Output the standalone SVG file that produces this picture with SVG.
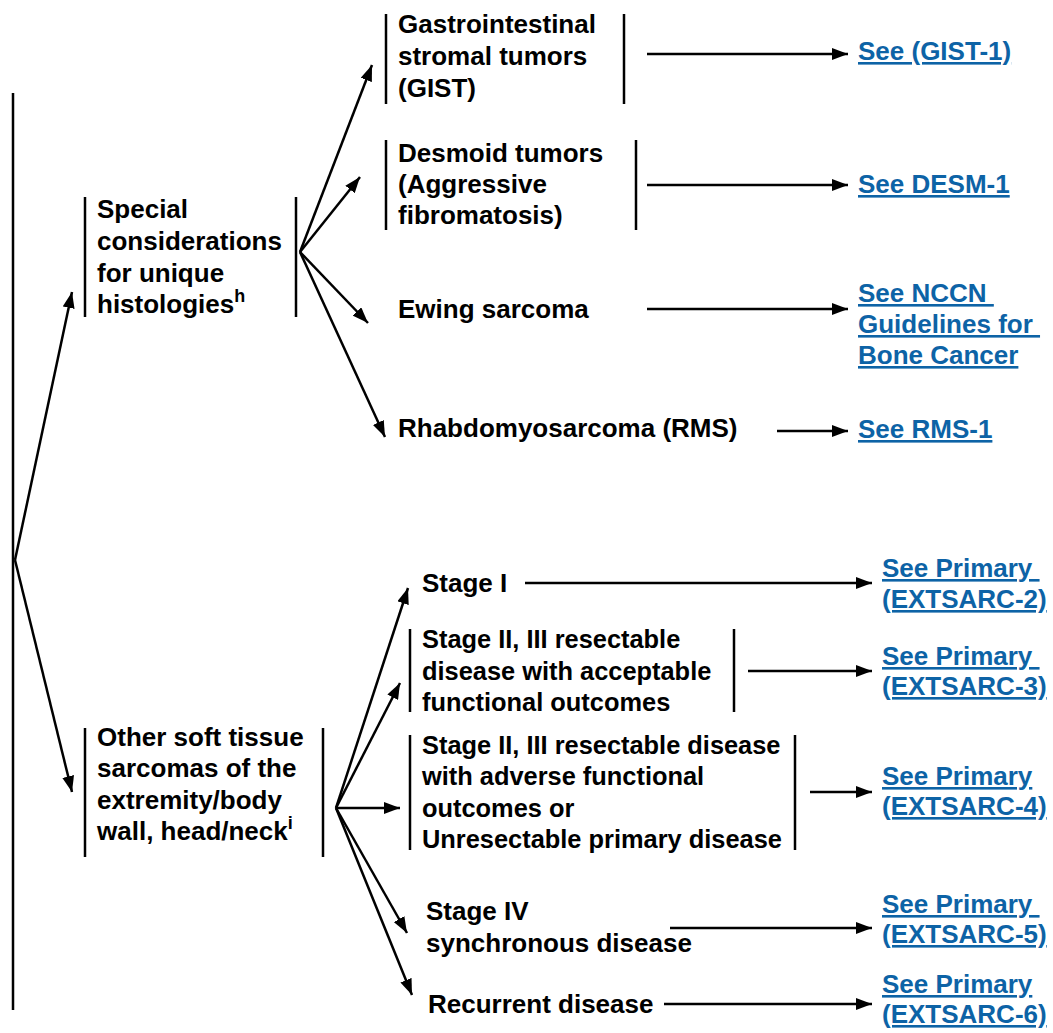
<svg xmlns="http://www.w3.org/2000/svg" width="1053" height="1033" viewBox="0 0 1053 1033">
<defs>
<style>
.t{font-family:"Liberation Sans",Arial,sans-serif;font-weight:bold;font-size:26px;fill:#000}
.n{font-size:25.4px}
.sup{font-size:18px}
.lk{font-family:"Liberation Sans",Arial,sans-serif;font-weight:bold;font-size:26px;fill:#0d63a6;text-decoration:underline;white-space:pre}
.bar{stroke:#000;stroke-width:2.5;fill:none}
.c{stroke:#000;stroke-width:2.5;fill:none;marker-end:url(#ah)}
</style>
<marker id="ah" markerUnits="userSpaceOnUse" markerWidth="17" markerHeight="12" refX="16" refY="6" orient="auto">
<path d="M0,0 L16,6 L0,12 z" fill="#000"/>
</marker>
</defs>
<rect width="1053" height="1033" fill="#fff"/>

<g id="root">
<line class="bar" x1="13" y1="93" x2="13" y2="1010" stroke-width="3"/>
</g>

<g id="special">
<line class="bar" x1="85" y1="197" x2="85" y2="317"/>
<line class="bar" x1="296" y1="197" x2="296" y2="317"/>
<text class="t"><tspan x="97" y="218">Special</tspan><tspan x="97" y="250">considerations</tspan><tspan x="97" y="282">for unique</tspan><tspan x="97" y="313">histologies<tspan class="sup" dy="-11">h</tspan></tspan></text>
</g>

<g id="gist">
<line class="bar" x1="386" y1="14" x2="386" y2="104"/>
<line class="bar" x1="624" y1="14" x2="624" y2="104"/>
<text class="t"><tspan x="398" y="33">Gastrointestinal</tspan><tspan x="398" y="65">stromal tumors</tspan><tspan x="398" y="97">(GIST)</tspan></text>
</g>
<g id="link-gist"><text class="lk" x="858" y="60">See (GIST-1)</text></g>

<g id="desmoid">
<line class="bar" x1="386" y1="140" x2="386" y2="230"/>
<line class="bar" x1="636" y1="140" x2="636" y2="230"/>
<text class="t"><tspan x="398" y="162">Desmoid tumors</tspan><tspan x="398" y="193">(Aggressive</tspan><tspan x="398" y="224">fibromatosis)</tspan></text>
</g>
<g id="link-desm"><text class="lk" x="858" y="193">See DESM-1</text></g>

<g id="ewing"><text class="t" x="398" y="318">Ewing sarcoma</text></g>
<g id="link-bone"><text class="lk"><tspan x="858" y="302">See NCCN </tspan><tspan x="858" y="333">Guidelines for </tspan><tspan x="858" y="364">Bone Cancer</tspan></text></g>

<g id="rms"><text class="t" x="398" y="437">Rhabdomyosarcoma (RMS)</text></g>
<g id="link-rms"><text class="lk" x="858" y="438">See RMS-1</text></g>

<g id="other">
<line class="bar" x1="85" y1="728" x2="85" y2="857"/>
<line class="bar" x1="323" y1="728" x2="323" y2="857"/>
<text class="t"><tspan x="97" y="746">Other soft tissue</tspan><tspan x="97" y="777">sarcomas of the</tspan><tspan x="97" y="809">extremity/body</tspan><tspan x="97" y="840">wall, head/neck<tspan class="sup" dy="-11">i</tspan></tspan></text>
</g>

<g id="stage1"><text class="t" x="422" y="592">Stage I</text></g>
<g id="link-ext2"><text class="lk"><tspan x="882" y="577">See Primary </tspan><tspan x="882" y="608">(EXTSARC-2)</tspan></text></g>

<g id="stage23res">
<line class="bar" x1="410" y1="629" x2="410" y2="712"/>
<line class="bar" x1="734" y1="629" x2="734" y2="712"/>
<text class="t n"><tspan x="422" y="648">Stage II, III resectable</tspan><tspan x="422" y="680">disease with acceptable</tspan><tspan x="422" y="711">functional outcomes</tspan></text>
</g>
<g id="link-ext3"><text class="lk"><tspan x="882" y="665">See Primary </tspan><tspan x="882" y="695">(EXTSARC-3)</tspan></text></g>

<g id="stage23adv">
<line class="bar" x1="410" y1="735" x2="410" y2="850"/>
<line class="bar" x1="795" y1="735" x2="795" y2="850"/>
<text class="t n"><tspan x="422" y="754">Stage II, III resectable disease</tspan><tspan x="422" y="785">with adverse functional</tspan><tspan x="422" y="817">outcomes or</tspan><tspan x="422" y="848">Unresectable primary disease</tspan></text>
</g>
<g id="link-ext4"><text class="lk"><tspan x="882" y="785">See Primary</tspan><tspan x="882" y="815">(EXTSARC-4)</tspan></text></g>

<g id="stage4"><text class="t"><tspan x="426" y="920">Stage IV</tspan><tspan x="426" y="952">synchronous disease</tspan></text></g>
<g id="link-ext5"><text class="lk"><tspan x="882" y="913">See Primary </tspan><tspan x="882" y="943">(EXTSARC-5)</tspan></text></g>

<g id="recurrent"><text class="t" x="428" y="1013">Recurrent disease</text></g>
<g id="link-ext6"><text class="lk"><tspan x="882" y="993">See Primary</tspan><tspan x="882" y="1023">(EXTSARC-6)</tspan></text></g>

<g id="connectors">
<line class="c" x1="15" y1="560" x2="72" y2="292"/>
<line class="c" x1="15" y1="560" x2="72" y2="792"/>
<line class="c" x1="300" y1="252" x2="372" y2="65"/>
<line class="c" x1="300" y1="252" x2="360" y2="177"/>
<line class="c" x1="300" y1="252" x2="368" y2="323"/>
<line class="c" x1="300" y1="252" x2="385" y2="437"/>
<line class="c" x1="647" y1="54" x2="848" y2="54"/>
<line class="c" x1="647" y1="185" x2="848" y2="185"/>
<line class="c" x1="647" y1="309" x2="848" y2="309"/>
<line class="c" x1="777" y1="431" x2="848" y2="431"/>
<line class="c" x1="336" y1="808" x2="408" y2="588"/>
<line class="c" x1="336" y1="808" x2="400" y2="683"/>
<line class="c" x1="336" y1="808" x2="400" y2="808"/>
<line class="c" x1="336" y1="808" x2="407" y2="933"/>
<line class="c" x1="336" y1="808" x2="412" y2="995"/>
<line class="c" x1="525" y1="583" x2="872" y2="583"/>
<line class="c" x1="748" y1="671" x2="872" y2="671"/>
<line class="c" x1="810" y1="792" x2="872" y2="792"/>
<line class="c" x1="670" y1="928" x2="872" y2="928"/>
<line class="c" x1="664" y1="1004" x2="872" y2="1004"/>
</g>
</svg>
